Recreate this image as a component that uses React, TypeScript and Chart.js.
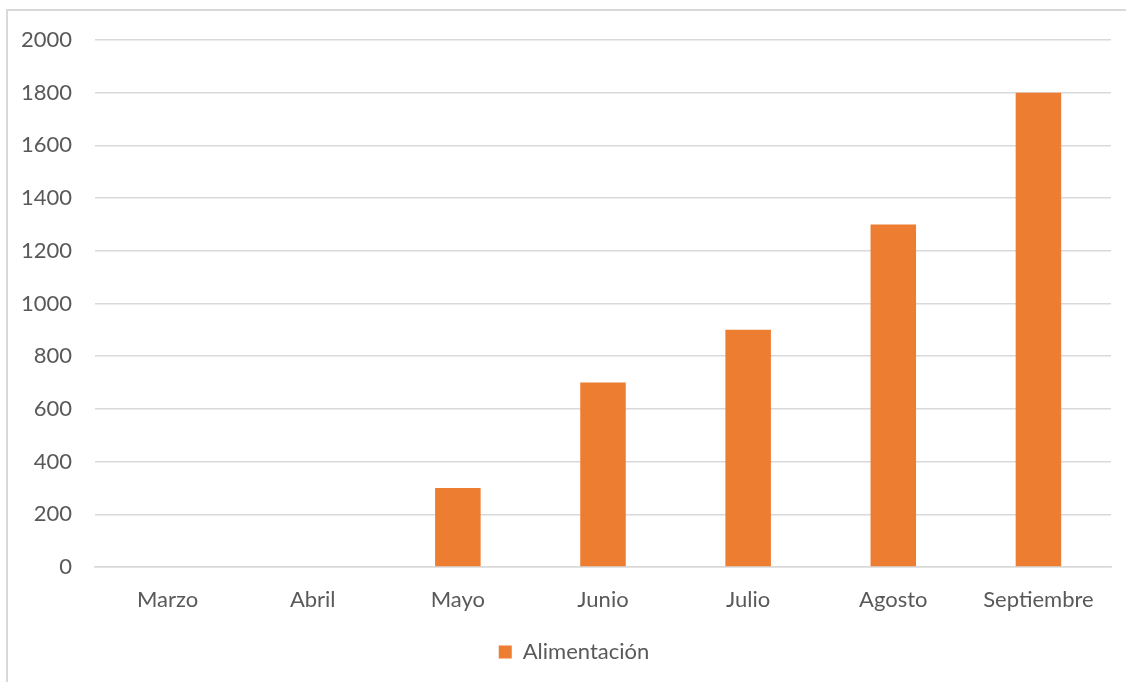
import React, { useEffect, useRef } from "react";
import { Chart, registerables } from "chart.js";

Chart.register(...registerables);

const months = ["Marzo", "Abril", "Mayo", "Junio", "Julio", "Agosto", "Septiembre"];
const alimentacion = [0, 0, 300, 700, 900, 1300, 1800];
const seriesName = "Alimentación";

const TEXT = "#595959";
const GRID = "#D9D9D9";
const BAR = "#ED7D31";
const FONT = "Lato, 'Open Sans', sans-serif";
const FONT_SIZE = 22;

// Nudges the centred legend a little to the right of the full canvas centre.
const legendOffset = {
  id: "legendOffset",
  afterLayout(chart: any) {
    if (chart.legend) {
      chart.legend.left = 37;
    }
  },
};

export default function App() {
  const canvasRef = useRef<HTMLCanvasElement | null>(null);

  useEffect(() => {
    document.body.style.margin = "0";
    const canvas = canvasRef.current;
    if (!canvas) return;
    const chart = new Chart(canvas, {
      type: "bar",
      data: {
        labels: months,
        datasets: [
          {
            label: seriesName,
            data: alimentacion,
            backgroundColor: BAR,
            borderWidth: 0,
            barPercentage: 0.3136,
            categoryPercentage: 1,
          },
        ],
      },
      options: {
        responsive: false,
        animation: false,
        maintainAspectRatio: false,
        layout: { padding: { top: 40, right: 15, left: 0, bottom: 9 } },
        plugins: {
          tooltip: { enabled: false },
          legend: {
            position: "bottom",
            labels: {
              color: TEXT,
              font: { family: FONT, size: FONT_SIZE },
              boxWidth: 13,
              boxHeight: 13,
              padding: 28,
            },
          },
        },
        scales: {
          x: {
            grid: { display: false, drawTicks: false },
            border: { display: true, color: GRID, width: 1.5 },
            ticks: {
              color: TEXT,
              font: { family: FONT, size: FONT_SIZE },
              padding: 20,
              maxRotation: 0,
              autoSkip: false,
            },
            afterFit: (scale: any) => {
              scale.height = 46;
            },
          },
          y: {
            min: 0,
            max: 2000,
            grid: { color: GRID, lineWidth: 1.5, drawTicks: false },
            border: { display: false },
            ticks: {
              stepSize: 200,
              color: TEXT,
              font: { family: FONT, size: FONT_SIZE },
              padding: 23,
              callback: (v: any) => String(v),
            },
            afterFit: (scale: any) => {
              scale.width = 95;
            },
          },
        },
      },
      plugins: [legendOffset],
    });
    return () => chart.destroy();
  }, []);

  return (
    <div style={{ position: "relative", width: 1126, height: 682, overflow: "hidden", background: "#fff" }}>
      <div
        style={{
          position: "absolute",
          left: 6,
          top: 9,
          width: 1300,
          height: 900,
          border: `2px solid ${GRID}`,
          boxSizing: "border-box",
        }}
      />
      <canvas
        ref={canvasRef}
        width={1126}
        height={682}
        style={{ position: "absolute", left: 0, top: 0, width: 1126, height: 682 }}
      />
    </div>
  );
}
